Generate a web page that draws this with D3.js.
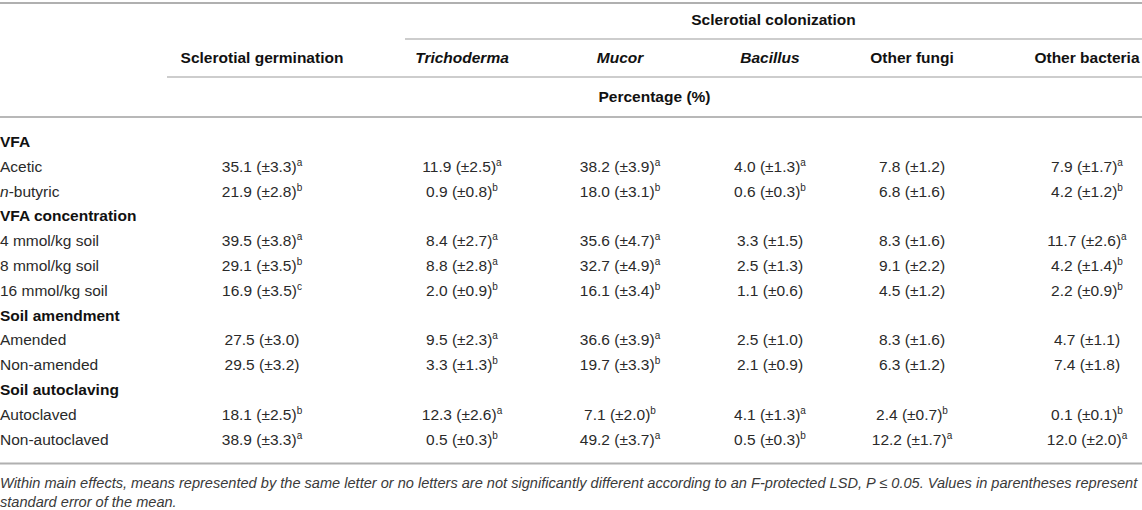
<!DOCTYPE html>
<html>
<head>
<meta charset="utf-8">
<script src="https://d3js.org/d3.v7.min.js"></script>
<style>
  html, body { margin: 0; padding: 0; background: #fff; }
  svg { display: block; font-family: "Liberation Sans", Arial, Helvetica, sans-serif; }
</style>
</head>
<body>
<svg id="table"></svg>
<script>
var columns = ["Sclerotial germination", "Trichoderma", "Mucor", "Bacillus", "Other fungi", "Other bacteria"];
var italicColumns = ["Trichoderma", "Mucor", "Bacillus"];
var spanHeader = "Sclerotial colonization";
var unitHeader = "Percentage (%)";

var groups = ["VFA", "VFA concentration", "Soil amendment", "Soil autoclaving"];
var groupRows = [
    ["Acetic", "n-butyric"],
    ["4 mmol/kg soil", "8 mmol/kg soil", "16 mmol/kg soil"],
    ["Amended", "Non-amended"],
    ["Autoclaved", "Non-autoclaved"]
];

var germMean   = [35.1, 21.9, 39.5, 29.1, 16.9, 27.5, 29.5, 18.1, 38.9];
var germSE     = [3.3, 2.8, 3.8, 3.5, 3.5, 3.0, 3.2, 2.5, 3.3];
var germLetter = ["a", "b", "a", "b", "c", "", "", "b", "a"];

var trichMean   = [11.9, 0.9, 8.4, 8.8, 2.0, 9.5, 3.3, 12.3, 0.5];
var trichSE     = [2.5, 0.8, 2.7, 2.8, 0.9, 2.3, 1.3, 2.6, 0.3];
var trichLetter = ["a", "b", "a", "a", "b", "a", "b", "a", "b"];

var mucorMean   = [38.2, 18.0, 35.6, 32.7, 16.1, 36.6, 19.7, 7.1, 49.2];
var mucorSE     = [3.9, 3.1, 4.7, 4.9, 3.4, 3.9, 3.3, 2.0, 3.7];
var mucorLetter = ["a", "b", "a", "a", "b", "a", "b", "b", "a"];

var bacMean   = [4.0, 0.6, 3.3, 2.5, 1.1, 2.5, 2.1, 4.1, 0.5];
var bacSE     = [1.3, 0.3, 1.5, 1.3, 0.6, 1.0, 0.9, 1.3, 0.3];
var bacLetter = ["a", "b", "", "", "", "", "", "a", "b"];

var fungiMean   = [7.8, 6.8, 8.3, 9.1, 4.5, 8.3, 6.3, 2.4, 12.2];
var fungiSE     = [1.2, 1.6, 1.6, 2.2, 1.2, 1.6, 1.2, 0.7, 1.7];
var fungiLetter = ["", "", "", "", "", "", "", "b", "a"];

var bactMean   = [7.9, 4.2, 11.7, 4.2, 2.2, 4.7, 7.4, 0.1, 12.0];
var bactSE     = [1.7, 1.2, 2.6, 1.4, 0.9, 1.1, 1.8, 0.1, 2.0];
var bactLetter = ["a", "b", "a", "b", "b", "", "", "b", "a"];

var noteLines = [
    "Within main effects, means represented by the same letter or no letters are not significantly different according to an F-protected LSD, P \u2264 0.05. Values in parentheses represent",
    "standard error of the mean."
];

// ---- layout ----
var width = 1142, height = 510;
var fontSize = 15.5;
var ink = "#2a2a2a";
var ruleColor = "#bcbcbc";

var colCenters = [262, 462, 620, 770, 912, 1087];
var labelCol = 167;      // where the value columns start
var spanStart = 405;     // where "Sclerotial colonization" begins
var rowStep = 24.8;

var svg = d3.select("#table")
    .attr("width", width)
    .attr("height", height);

// build the list of body rows: group headers followed by their members
var bodyRows = [];
var dataIndex = 0;
groups.forEach(function(g, gi) {
    bodyRows.push({label: g, group: true});
    groupRows[gi].forEach(function(r) {
        bodyRows.push({label: r, group: false, idx: dataIndex});
        dataIndex++;
    });
});

var colMeans   = [germMean, trichMean, mucorMean, bacMean, fungiMean, bactMean];
var colSEs     = [germSE, trichSE, mucorSE, bacSE, fungiSE, bactSE];
var colLetters = [germLetter, trichLetter, mucorLetter, bacLetter, fungiLetter, bactLetter];

var x = d3.scaleOrdinal().domain(columns).range(colCenters);
var y = d3.scalePoint()
    .domain(d3.range(bodyRows.length))
    .range([147, 147 + rowStep * (bodyRows.length - 1)]);

// ---- rules ----
function rule(x1, x2, yy, w, c) {
    svg.append("line")
        .attr("x1", x1).attr("x2", x2)
        .attr("y1", yy).attr("y2", yy)
        .attr("stroke", c || ruleColor)
        .attr("stroke-width", w || 1.5);
}
rule(0, width, 3, 2, "#b0b0b0");
rule(spanStart, width, 39);
rule(labelCol, width, 77);
rule(0, width, 117, 2, "#b8b8b8");
var bottomRule = y(bodyRows.length - 1) + 19;
rule(0, width, bottomRule, 2, "#b0b0b0");

// ---- header ----
svg.append("text")
    .attr("x", (spanStart + width) / 2)
    .attr("y", 25)
    .attr("text-anchor", "middle")
    .attr("font-size", fontSize)
    .attr("font-weight", "bold")
    .attr("fill", "#111")
    .text(spanHeader);

svg.selectAll("text.colhead")
    .data(columns)
    .enter().append("text")
    .attr("class", "colhead")
    .attr("x", function(d) { return x(d); })
    .attr("y", 63)
    .attr("text-anchor", "middle")
    .attr("font-size", fontSize)
    .attr("font-weight", "bold")
    .attr("font-style", function(d) { return italicColumns.indexOf(d) >= 0 ? "italic" : "normal"; })
    .attr("fill", "#111")
    .text(function(d) { return d; });

svg.append("text")
    .attr("x", (labelCol + width) / 2)
    .attr("y", 102)
    .attr("text-anchor", "middle")
    .attr("font-size", fontSize)
    .attr("font-weight", "bold")
    .attr("fill", "#111")
    .text(unitHeader);

// ---- row labels ----
var labels = svg.selectAll("text.rowlabel")
    .data(bodyRows)
    .enter().append("text")
    .attr("class", "rowlabel")
    .attr("x", 0)
    .attr("y", function(d, i) { return y(i); })
    .attr("font-size", fontSize)
    .attr("font-weight", function(d) { return d.group ? "bold" : "normal"; })
    .attr("fill", function(d) { return d.group ? "#111" : ink; });

labels.each(function(d) {
    var t = d3.select(this);
    if (d.label.indexOf("n-") === 0) {
        t.append("tspan").attr("font-style", "italic").text("n");
        t.append("tspan").text(d.label.slice(1));
    } else {
        t.text(d.label);
    }
});

// ---- cells ----
var cells = [];
bodyRows.forEach(function(r, ri) {
    if (r.group) return;
    columns.forEach(function(c, ci) {
        cells.push({
            row: ri,
            col: c,
            mean: colMeans[ci][r.idx],
            se: colSEs[ci][r.idx],
            letter: colLetters[ci][r.idx]
        });
    });
});

var cellText = svg.selectAll("text.cell")
    .data(cells)
    .enter().append("text")
    .attr("class", "cell")
    .attr("x", function(d) { return x(d.col); })
    .attr("y", function(d) { return y(d.row); })
    .attr("text-anchor", "middle")
    .attr("font-size", fontSize)
    .attr("fill", ink);

cellText.each(function(d) {
    var t = d3.select(this);
    t.append("tspan").text(d.mean.toFixed(1) + " (\u00b1" + d.se.toFixed(1) + ")");
    if (d.letter) {
        t.append("tspan")
            .attr("dy", -6)
            .attr("font-size", 10)
            .text(d.letter);
    }
});

// ---- footnote ----
var notes = svg.selectAll("text.note")
    .data(noteLines)
    .enter().append("text")
    .attr("class", "note")
    .attr("x", 0)
    .attr("y", function(d, i) { return bottomRule + 24 + i * 19; })
    .attr("font-size", 13.5)
    .attr("font-style", "italic")
    .attr("fill", "#3a3a3a")
    .text(function(d) { return d; });

// size the note so its first line runs to the right edge like the original
var firstLen = notes.node().getComputedTextLength();
if (firstLen > 0) {
    var fs = 13.5 * 1138 / firstLen;
    notes.attr("font-size", fs);
}
</script>
</body>
</html>
